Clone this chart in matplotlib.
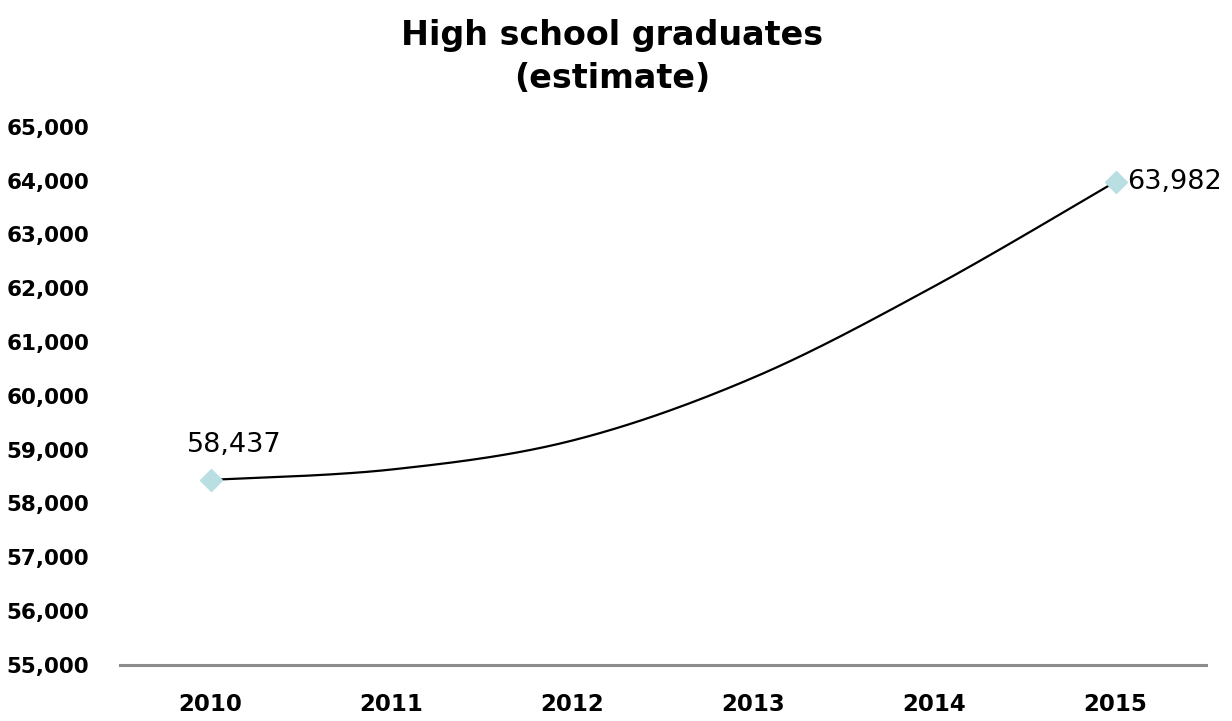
import numpy as np
import matplotlib.pyplot as plt
from matplotlib.ticker import FuncFormatter

years = ["2010", "2011", "2012", "2013", "2014", "2015"]
graduates = [58437, 58630, 59170, 60340, 62040, 63982]
labelled = [0, 5]


def smooth(xs, ys, n=40):
    # bezier smoothing through every point, like a spreadsheet "smoothed line"
    xs = np.asarray(xs, float)
    ys = np.asarray(ys, float)
    px = np.concatenate([[xs[0]], xs, [xs[-1]]])
    py = np.concatenate([[ys[0]], ys, [ys[-1]]])
    out_x, out_y = [], []
    t = np.linspace(0, 1, n)
    for i in range(1, len(px) - 2):
        p0 = np.array([px[i], py[i]])
        p3 = np.array([px[i + 1], py[i + 1]])
        p1 = p0 + (np.array([px[i + 1], py[i + 1]]) - np.array([px[i - 1], py[i - 1]])) / 6
        p2 = p3 - (np.array([px[i + 2], py[i + 2]]) - np.array([px[i], py[i]])) / 6
        b = ((1 - t) ** 3)[:, None] * p0 + (3 * (1 - t) ** 2 * t)[:, None] * p1 \
            + (3 * (1 - t) * t ** 2)[:, None] * p2 + (t ** 3)[:, None] * p3
        out_x.extend(b[:, 0])
        out_y.extend(b[:, 1])
    return out_x, out_y


def main():
    fig = plt.figure(figsize=(12.32, 7.21), dpi=100)
    ax = fig.add_axes([0.0974, 0.078, 0.8816, 0.746])

    x = np.arange(len(years))
    sx, sy = smooth(x, graduates)
    ax.plot(sx, sy, color="black", lw=1.6, zorder=2)
    ax.plot(x[labelled], np.array(graduates)[labelled], ls="none", marker="D",
            ms=11, color="#b9dfe3", zorder=3)

    ax.annotate(f"{graduates[0]:,}", (x[0], graduates[0]), xytext=(17, 16),
                textcoords="offset points", ha="center", va="bottom", fontsize=19.5)
    ax.annotate(f"{graduates[5]:,}", (x[5], graduates[5]), xytext=(8, 0),
                textcoords="offset points", ha="left", va="center", fontsize=19.5)

    ax.set_xlim(-0.5, 5.5)
    ax.set_ylim(55000, 65000)
    ax.set_yticks(np.arange(55000, 65001, 1000))
    ax.yaxis.set_major_formatter(FuncFormatter(lambda v, p: f"{int(v):,}"))
    ax.set_xticks(x)
    ax.set_xticklabels(years)

    for s in ["top", "right", "left"]:
        ax.spines[s].set_visible(False)
    ax.spines["bottom"].set_color("#8c8c8c")
    ax.spines["bottom"].set_linewidth(2.2)
    ax.tick_params(axis="both", length=0)
    ax.tick_params(axis="y", pad=22, labelsize=15.5)
    ax.tick_params(axis="x", pad=20, labelsize=16.5)
    for lab in ax.get_xticklabels() + ax.get_yticklabels():
        lab.set_fontweight("bold")

    fig.text(0.497, 0.974, "High school graduates\n(estimate)", ha="center", va="top",
             fontsize=24, fontweight="heavy", linespacing=1.4)

    fig.savefig("out.png", dpi=100)


if __name__ == "__main__":
    main()
